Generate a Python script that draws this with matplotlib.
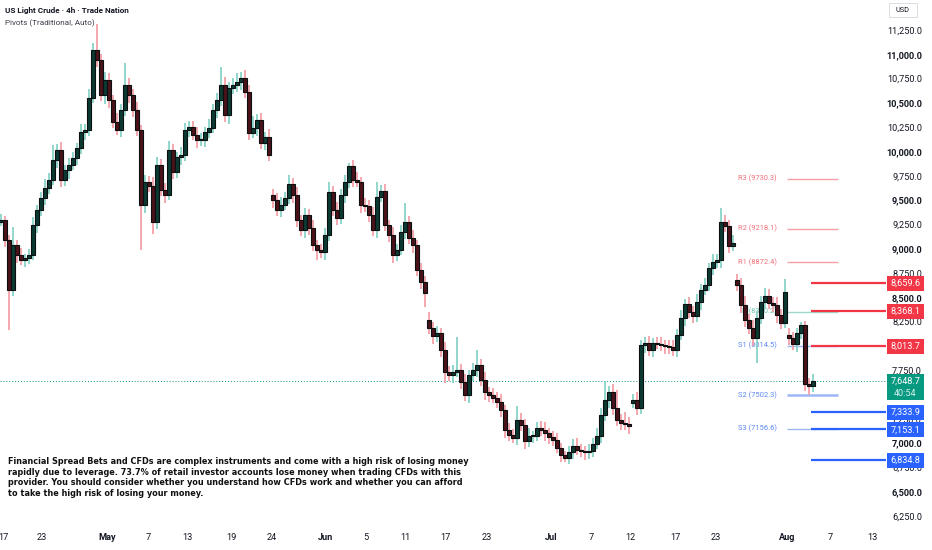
import matplotlib
matplotlib.use("Agg")
import matplotlib.pyplot as plt
import matplotlib.transforms as mtransforms
from matplotlib.patches import Rectangle

# 4h candles (one candle here ~ two or three of the original)
closes = [
    9306, 9100, 8585, 9048, 8946, 8894, 8915, 8946, 9254, 9409, 9532, 9635,
    9717, 9923, 10026, 9717, 9820, 9871, 9943, 10046, 10211, 10232, 10561, 11055,
    10952, 10592, 10746, 10540, 10314, 10232, 10437, 10695, 10592, 10437, 10232, 9460,
    9697, 9655, 9285, 9871, 9614, 9563, 10026, 9799, 9954, 9974, 10232, 10262,
    10180, 10129, 10129, 10211, 10252, 10437, 10540, 10695, 10386, 10664, 10695, 10725,
    10767, 10623, 10201, 10252, 10334, 10098, 10160, 9974, 9511, 9409, 9460, 9532,
    9676, 9563, 9306, 9203, 9357, 9223, 9048, 8997, 8976, 9151, 9594, 9409,
    9326, 9563, 9697, 9861, 9717, 9697, 9460, 9450, 9357, 9203, 9542, 9604,
    9254, 9151, 8946, 8997, 9182, 9285, 9120, 9048, 8791, 8668, 8555, 8195,
    8112, 8143, 7968, 7742, 7711, 7742, 7762, 7639, 7505, 7711, 7762, 7814,
    7660, 7536, 7505, 7474, 7433, 7351, 7145, 7094, 7063, 7248, 7197, 7032,
    7083, 7083, 7166, 7145, 7114, 7073, 7042, 6960, 6888, 6857, 6919, 6981,
    6939, 6929, 6919, 6929, 7001, 7083, 7299, 7454, 7536, 7371, 7248, 7217,
    7207, 7186, 7454, 7371, 8020, 8040, 7968, 8040, 8030, 8020, 8009, 7999,
    7968, 8123, 8297, 8441, 8359, 8318, 8462, 8585, 8637, 8812, 8874, 8894,
    9285, 9244, 9038, 9069, 8637, 8431, 8277, 8195, 8092, 8297, 8462, 8524,
    8452, 8431, 8328, 8246, 8565, 8092, 8030, 8143, 8225, 7618, 7598, 7649,
]
wick_up = [
    60, 40, 50, 190, 50, 70, 40, 60, 80, 50, 60, 90,
    70, 150, 60, 80, 50, 70, 60, 50, 80, 60, 90, 70,
    270, 60, 80, 70, 50, 90, 60, 225, 70, 60, 80, 50,
    70, 60, 90, 80, 60, 70, 90, 60, 50, 80, 70, 60,
    60, 80, 70, 50, 90, 60, 70, 185, 80, 60, 70, 90,
    60, 80, 70, 120, 60, 70, 50, 80, 60, 70, 80, 60,
    90, 60, 80, 50, 70, 60, 80, 50, 60, 70, 100, 60,
    80, 60, 70, 30, 60, 80, 50, 70, 60, 80, 150, 60,
    70, 50, 80, 60, 70, 195, 60, 80, 50, 70, 60, 80,
    60, 70, 50, 80, 60, 70, 340, 60, 80, 50, 70, 155,
    60, 80, 50, 70, 60, 80, 50, 70, 60, 140, 70, 60,
    80, 50, 60, 70, 80, 50, 60, 70, 50, 40, 60, 70,
    80, 60, 50, 70, 60, 80, 70, 200, 60, 80, 186, 60,
    110, 70, 60, 80, 50, 60, 70, 50, 60, 70, 50, 60,
    70, 60, 80, 50, 70, 60, 80, 60, 70, 50, 80, 60,
    145, 70, 60, 80, 60, 70, 90, 60, 80, 70, 60, 80,
    70, 60, 80, 60, 135, 70, 60, 50, 30, 40, 60, 70,
]
wick_dn = [
    50, 70, 410, 60, 80, 50, 70, 60, 50, 80, 60, 70,
    60, 50, 80, 70, 60, 90, 50, 70, 60, 80, 60, 50,
    70, 60, 90, 80, 60, 50, 70, 60, 80, 70, 60, 460,
    80, 60, 120, 70, 60, 80, 50, 70, 60, 80, 60, 70,
    50, 80, 60, 70, 60, 50, 80, 60, 70, 90, 60, 70,
    80, 60, 70, 50, 80, 60, 70, 60, 80, 60, 70, 50,
    60, 80, 70, 60, 80, 70, 60, 100, 60, 80, 60, 60,
    70, 60, 80, 60, 70, 50, 80, 60, 70, 60, 80, 50,
    60, 70, 80, 60, 50, 70, 60, 80, 60, 70, 145, 60,
    80, 60, 70, 110, 60, 80, 50, 70, 60, 80, 60, 70,
    60, 80, 70, 50, 60, 70, 80, 60, 50, 70, 60, 80,
    60, 70, 50, 60, 80, 70, 60, 50, 70, 40, 60, 70,
    50, 60, 80, 70, 60, 50, 70, 60, 80, 70, 60, 70,
    60, 80, 50, 70, 60, 80, 60, 70, 50, 60, 80, 70,
    60, 70, 50, 80, 60, 70, 60, 80, 50, 60, 70, 60,
    80, 60, 70, 50, 60, 80, 70, 60, 80, 260, 60, 70,
    60, 70, 80, 60, 50, 70, 60, 80, 60, 70, 90, 60,
]
# opens after the weekend gaps
gap_opens = {68: 9563, 107: 8277, 158: 7420, 184: 8688, 197: 8123}
first_open = 9290

date_labels = ["17", "23", "May", "7", "13", "19", "24", "Jun", "5", "11", "17", "23",
               "Jul", "7", "12", "17", "23", "Aug", "7", "13"]
date_pos = [0.5, 10.25, 26.5, 36.75, 46.5, 57.5, 67.75, 81.25, 91.25, 101, 111, 121.5,
            137.5, 147.5, 157.25, 168.5, 178.75, 196.5, 207.25, 217.75]

pivot_names = ["R3", "R2", "R1", "P", "S1", "S2", "S3"]
pivot_vals = [9730.3, 9218.1, 8872.4, 8360.2, 8014.5, 7502.3, 7156.6]

level_vals = [8659.6, 8368.1, 8013.7, 7333.9, 7153.1, 6834.8]
level_kind = ["r", "r", "r", "s", "s", "s"]

last_price = 7648.7
countdown = "40:54"
# 8,000 and 7,500 sit under the price boxes in the reference
axis_prices = [11250, 11000, 10750, 10500, 10250, 10000, 9750, 9500, 9250, 9000,
               8750, 8500, 8250, 7750, 7250, 7000, 6750, 6500, 6250]

UP_BODY, DN_BODY = "#0b3a33", "#4a1219"
UP_WICK, DN_WICK = "#7fd0c4", "#f39aa2"
RED, BLUE, GREEN = "#f23645", "#2962ff", "#089981"
TXT = "#131722"
FONT = "Roboto"

W, H = 932, 550
fig = plt.figure(figsize=(W / 100, H / 100), dpi=100)
ax = fig.add_axes([0, 25 / H, 886 / W, 525 / H])
ax.set_xlim(-0.25, 221.25)
ax.set_ylim(6168, 11569)
ax.axis("off")

n = len(closes)
opens = [first_open] + closes[:-1]
for k, v in gap_opens.items():
    opens[k] = v

for i in range(n):
    o, c = opens[i], closes[i]
    up = c >= o
    top, bot = max(o, c), min(o, c)
    ax.vlines(i, bot - wick_dn[i], top + wick_up[i], color=UP_WICK if up else DN_WICK,
              lw=1.2, zorder=2)
    h = max(top - bot, 15)
    ax.add_patch(Rectangle((i - 0.4, bot), 0.8, h, facecolor=UP_BODY if up else DN_BODY,
                           edgecolor="#0b0f0f", lw=0.8, zorder=3))

# current price dotted line
ax.axhline(last_price, color=GREEN, lw=0.7, ls=(0, (1, 2)), zorder=1)

# pivots
piv_x0, piv_x1, piv_lab = 196.5, 209.25, 194.0
for name, v in zip(pivot_names, pivot_vals):
    if name.startswith("R"):
        lc, tc, lw = "#f6a0a6", "#f0707a", 1.0
    elif name == "P":
        lc, tc, lw = "#9fd8cc", "#6cc0ae", 1.0
    else:
        lc, tc, lw = "#9db6f6", "#5a87f5", 1.0
    if name == "S2":
        lw = 1.8
    ax.hlines(v, piv_x0, piv_x1, color=lc, lw=lw, zorder=1)
    ax.text(piv_lab, v, f"{name} ({v:.1f})", color=tc, fontsize=5.4, family=FONT,
            ha="right", va="center", zorder=1)

# drawn support / resistance levels
for v, k in zip(level_vals, level_kind):
    ax.hlines(v, 202.5, 221.25, color=RED if k == "r" else BLUE, lw=1.6, zorder=4)

# right price scale
bt = mtransforms.blended_transform_factory(ax.transAxes, ax.transData)
px = 10.288  # price units per pixel
for p in axis_prices:
    ax.text(922 / 886, p, f"{p:,.1f}", transform=bt, ha="right", va="center",
            fontsize=6.6, family=FONT, color=TXT, clip_on=False,
            fontweight="bold" if p % 500 == 0 else "normal", zorder=5)

box_x0, box_w = 887 / 886, 37 / 886
for v, k in zip(level_vals, level_kind):
    ax.add_patch(Rectangle((box_x0, v - 8 * px), box_w, 15 * px, transform=bt,
                           facecolor=RED if k == "r" else BLUE, edgecolor="none",
                           clip_on=False, zorder=6))
    ax.text(box_x0 + box_w / 2, v - 0.5 * px, f"{v:,.1f}", transform=bt, ha="center",
            va="center", fontsize=6.6, family=FONT, color="white", clip_on=False, zorder=7)

ax.add_patch(Rectangle((box_x0, last_price - 19 * px), box_w, 26 * px, transform=bt,
                       facecolor=GREEN, edgecolor="none", clip_on=False, zorder=6))
ax.text(box_x0 + box_w / 2, last_price, f"{last_price:,.1f}", transform=bt, ha="center",
        va="center", fontsize=6.6, family=FONT, color="white", clip_on=False, zorder=7)
ax.text(box_x0 + box_w / 2, last_price - 12 * px, countdown, transform=bt, ha="center",
        va="center", fontsize=6.6, family=FONT, color="#d5f0ea", clip_on=False, zorder=7)

# date axis
xt = mtransforms.blended_transform_factory(ax.transData, ax.transAxes)
for lab, pos in zip(date_labels, date_pos):
    ax.text(pos, -12 / 525, lab, transform=xt, ha="center", va="center", fontsize=6.6,
            family=FONT, color=TXT, clip_on=False,
            fontweight="bold" if lab.isalpha() else "normal")

# header
fig.text(5 / W, 1 - 10 / H, "US Light Crude · 4h · Trade Nation", fontsize=5.9,
         family=FONT, fontweight="bold", color=TXT, va="center")
fig.text(5 / W, 1 - 23 / H, "Pivots (Traditional, Auto)", fontsize=5.9, family=FONT,
         color="#3a3e4a", va="center")
fig.patches.append(Rectangle((889 / W, 1 - 17 / H), 28 / W, 14 / H, transform=fig.transFigure,
                             facecolor="white", edgecolor="#d6d8de", lw=0.6))
fig.text(903 / W, 1 - 10 / H, "USD", fontsize=5.3, family=FONT, color=TXT,
         ha="center", va="center")

# disclaimer
disclaimer = [
    "Financial Spread Bets and CFDs are complex instruments and come with a high risk of losing money",
    "rapidly due to leverage. 73.7% of retail investor accounts lose money when trading CFDs with this",
    "provider. You should consider whether you understand how CFDs work and whether you can afford",
    "to take the high risk of losing your money.",
]
for j, line in enumerate(disclaimer):
    fig.text(8 / W, 1 - (462 + 10.4 * j) / H, line, fontsize=5.9, family="DejaVu Sans",
             fontweight="bold", color="#111111", va="center")

fig.savefig("out.png", dpi=100, facecolor="white")
